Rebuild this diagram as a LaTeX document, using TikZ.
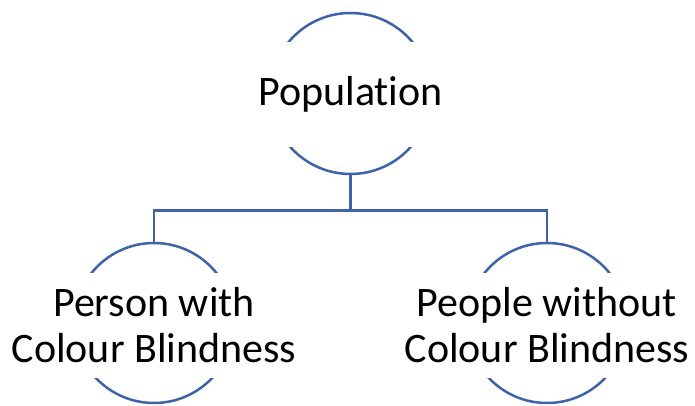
\documentclass[tikz,border=0pt]{standalone}
\usepackage{fontspec}
\setmainfont{Carlito}[Ligatures={NoCommon}]
\usetikzlibrary{positioning}
\definecolor{ringblue}{RGB}{62,99,168}

\begin{document}
\begin{tikzpicture}[x=1pt,y=1pt,
		ring/.style={circle,draw=ringblue,line width=2.5pt,fill=white,minimum size=#1,inner sep=0pt},
		band/.style={fill=white,inner sep=0pt,minimum width=175pt,minimum height=105pt,align=center,font=\fontsize{42}{46}\selectfont},
		link/.style={draw=ringblue,line width=2.5pt}]
	\useasboundingbox (0,0) rectangle (695,405);
	% circles
	\node[ring=161pt] (pop) at (350.5,311.5) {};
	\node[ring=160pt] (lft) at (154,82) {};
	\node[ring=160pt] (rgt) at (547,82) {};
	% texts over the circles
	\node[band,yshift=-1pt] (poptext) at (pop) {Population};
	\node[band,yshift=-2pt] (lfttext) at (lft) {Person with\\Colour Blindness};
	\node[band,yshift=-2pt] (rgttext) at (rgt) {People without\\Colour Blindness};
	% connectors
	\draw[link] (pop.south) -- ++(0,-35) coordinate (split) -| (lft.north);
	\draw[link] (split) -| (rgt.north);
\end{tikzpicture}
\end{document}
